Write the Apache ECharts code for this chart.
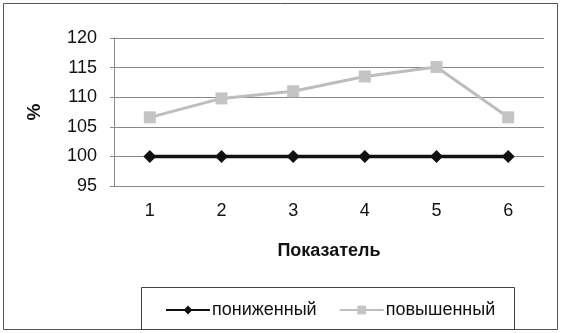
<!DOCTYPE html>
<html>
<head>
<meta charset="utf-8">
<script src="https://cdn.jsdelivr.net/npm/echarts@6/dist/echarts.min.js"></script>
<style>
	html, body { margin: 0; padding: 0; background: #fff; }
	#chart_1 { width: 562px; height: 333px; }
</style>
</head>
<body>
<div id="chart_1"></div>
<script>
var categories = ['1', '2', '3', '4', '5', '6'];
var lowered = [100, 100, 100, 100, 100, 100];
var raised = [106.6, 109.8, 111.0, 113.5, 115.1, 106.6];
var seriesNames = ['пониженный', 'повышенный'];

var myChart = echarts.init(document.getElementById('chart_1'));
var font = 'Liberation Sans, Arial, sans-serif';
var option = {
	backgroundColor: '#fff',
	animation: false,
	textStyle: { fontFamily: font },
	grid: { left: 114, right: 18, top: 38, bottom: 147 },
	graphic: [{
		type: 'rect',
		shape: { x: 3.5, y: 3.5, width: 554, height: 326 },
		style: { fill: 'none', stroke: '#555', lineWidth: 1 }
	}, {
		type: 'rect',
		shape: { x: 141.5, y: 287.5, width: 373, height: 42 },
		style: { fill: 'none', stroke: '#444', lineWidth: 1 }
	}],
	legend: {
		left: 160,
		top: 296,
		itemWidth: 44,
		itemHeight: 11,
		itemGap: 22,
		textStyle: { fontSize: 18, color: '#111', fontFamily: font, padding: [0, 0, 0, -3] },
		data: seriesNames
	},
	xAxis: {
		type: 'category',
		data: categories,
		name: 'Показатель',
		nameLocation: 'middle',
		nameGap: 56,
		nameTextStyle: { fontSize: 18, fontWeight: 'bold', color: '#111' },
		axisLine: { lineStyle: { color: '#888' } },
		axisTick: { length: 5, lineStyle: { color: '#888' } },
		axisLabel: { fontSize: 18, color: '#111', margin: 16 }
	},
	yAxis: {
		type: 'value',
		min: 95,
		max: 120,
		interval: 5,
		name: '%',
		nameLocation: 'middle',
		nameGap: 70,
		nameRotate: 90,
		nameTextStyle: { fontSize: 19, fontWeight: 'bold', color: '#111' },
		axisLine: { show: true, lineStyle: { color: '#888' } },
		axisTick: { show: true, length: 4, lineStyle: { color: '#888' } },
		axisLabel: { fontSize: 18, color: '#111', margin: 17 },
		splitLine: { lineStyle: { color: '#888', width: 1 } }
	},
	series: [{
		name: seriesNames[0],
		type: 'line',
		data: lowered,
		symbol: 'diamond',
		symbolSize: 13,
		z: 3,
		itemStyle: { color: '#111' },
		lineStyle: { color: '#111', width: 3.5 }
	}, {
		name: seriesNames[1],
		type: 'line',
		data: raised,
		symbol: 'rect',
		symbolSize: 12,
		itemStyle: { color: '#c4c4c4' },
		lineStyle: { color: '#bdbdbd', width: 3 }
	}]
};
myChart.setOption(option);
</script>
</body>
</html>
